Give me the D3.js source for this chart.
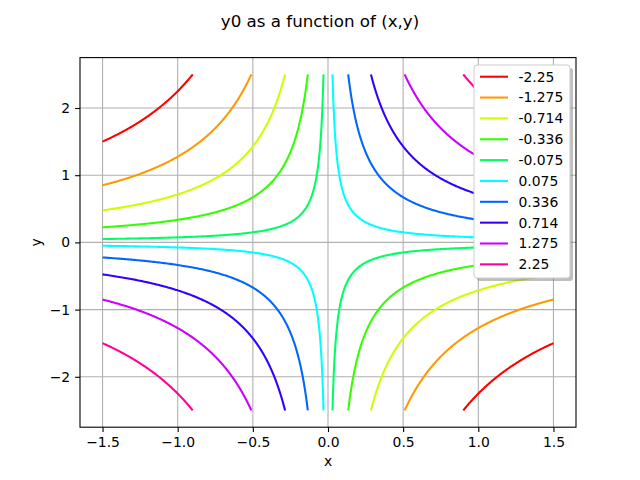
<!DOCTYPE html>
<html><head><meta charset="utf-8">
<script src="https://cdn.jsdelivr.net/npm/d3@7"></script>
<style>body{margin:0;background:#fff}svg{font-family:"DejaVu Sans",sans-serif}</style>
</head><body><svg id="c" width="640" height="480"></svg>
<script>
const levels = [-2.25, -1.275, -0.714, -0.336, -0.075, 0.075, 0.336, 0.714, 1.275, 2.25];
const levelLabels = ["-2.25","-1.275","-0.714","-0.336","-0.075","0.075","0.336","0.714","1.275","2.25"];
const levelColors = ["#ff0000","#ff9900","#ccff00","#33ff00","#00ff66","#00ffff","#0066ff","#3300ff","#cc00ff","#ff0099"];
const xRange = [-1.5, 1.5];
const yRange = [-2.5, 2.5];
const xTicks = [-1.5,-1.0,-0.5,0.0,0.5,1.0,1.5];
const yTicks = [-2,-1,0,1,2];
const title = "y0 as a function of (x,y)";

const svg = d3.select("#c");
const L=80, R=576, T=57.6, B=427.2;
const xs = d3.scaleLinear().domain([-1.65,1.65]).range([L,R]);
const ys = d3.scaleLinear().domain([-2.75,2.75]).range([B,T]);
const fmtMinus = s => s.replace("-", "\u2212");

// grid
svg.append("g").selectAll("line").data(xTicks).join("line")
  .attr("x1",d=>xs(d)).attr("x2",d=>xs(d)).attr("y1",T).attr("y2",B)
  .attr("stroke","#b0b0b0").attr("stroke-width",1.1);
svg.append("g").selectAll("line").data(yTicks).join("line")
  .attr("y1",d=>ys(d)).attr("y2",d=>ys(d)).attr("x1",L).attr("x2",R)
  .attr("stroke","#b0b0b0").attr("stroke-width",1.1);

// sampled function grid y0 = x*y
const nx = 301, ny = 501;
const gx = d3.scaleLinear().domain([0.5, nx-0.5]).range(xRange);
const gy = d3.scaleLinear().domain([0.5, ny-0.5]).range(yRange);
const values = new Float64Array(nx*ny);
for (let j=0;j<ny;j++) for (let i=0;i<nx;i++) {
  values[i+j*nx] = gx(i+0.5)*gy(j+0.5);
}
const contours = d3.contours().size([nx,ny]).thresholds(levels)(values);
svg.append("clipPath").attr("id","clip").append("rect")
  .attr("x",L).attr("y",T).attr("width",R-L).attr("height",B-T);
const lineGen = d3.line().x(p=>xs(gx(p[0]))).y(p=>ys(gy(p[1])));
const cg = svg.append("g").attr("clip-path","url(#clip)");
const clampP = p => [Math.min(Math.max(p[0],0.5),nx-0.5),Math.min(Math.max(p[1],0.5),ny-0.5)];
contours.forEach((c,k)=>{
  const polylines = [];
  c.coordinates.forEach(poly=>poly.forEach(ring=>{
    const onB = p => p[0]<=0.5||p[0]>=nx-0.5||p[1]<=0.5||p[1]>=ny-0.5;
    let start = ring.findIndex(onB);
    if (start<0) { polylines.push(ring); return; }
    let cur=[];
    const n = ring.length-1;
    for (let t=0;t<=n;t++){
      const p = ring[(start+t)%n];
      if (onB(p)) {
        if (cur.length>0){ cur.push(clampP(p)); if(cur.length>2) polylines.push(cur); cur=[]; }
      } else {
        if (cur.length===0){ cur.push(clampP(ring[(start+t-1+n)%n])); }
        cur.push(p);
      }
    }
  }));
  cg.selectAll(null).data(polylines).join("path")
    .attr("d",lineGen).attr("fill","none").attr("stroke",levelColors[k]).attr("stroke-width",2.08);
});

// axes frame
svg.append("rect").attr("x",L).attr("y",T).attr("width",R-L).attr("height",B-T)
  .attr("fill","none").attr("stroke","#000").attr("stroke-width",1.1);
const xa = svg.append("g").attr("transform",`translate(0,${B})`)
  .call(d3.axisBottom(xs).tickValues(xTicks).tickFormat(d=>fmtMinus(d3.format(".1f")(d))).tickSize(4.9).tickPadding(4.9));
const ya = svg.append("g").attr("transform",`translate(${L},0)`)
  .call(d3.axisLeft(ys).tickValues(yTicks).tickFormat(d=>fmtMinus(d3.format("d")(d))).tickSize(4.9).tickPadding(4.9));
[xa,ya].forEach(a=>{a.select(".domain").remove();
  a.selectAll("line").attr("stroke","#000").attr("stroke-width",1.1);
  a.selectAll("text").attr("font-size","13.9px").attr("font-family","DejaVu Sans").attr("fill","#000");});

svg.append("text").attr("x",(L+R)/2).attr("y",466).attr("text-anchor","middle").attr("font-size","13.9px").text("x");
svg.append("text").attr("transform",`translate(41,${(T+B)/2}) rotate(-90)`).attr("text-anchor","middle").attr("font-size","13.9px").text("y");
svg.append("text").attr("x",320).attr("y",27).attr("text-anchor","middle").attr("font-size","16.7px").text(title);

// legend
const lx=474, ly=65, lw=96, lh=213;
svg.append("rect").attr("x",lx+3).attr("y",ly+3).attr("width",lw).attr("height",lh).attr("rx",3).attr("fill","#808080").attr("opacity",0.5);
svg.append("rect").attr("x",lx).attr("y",ly).attr("width",lw).attr("height",lh).attr("rx",3)
  .attr("fill","#fff").attr("stroke","#cccccc").attr("stroke-width",1);
const lg = svg.append("g").selectAll("g").data(levels).join("g")
  .attr("transform",(d,i)=>`translate(${lx},${ly+11.7+i*20.85})`);
lg.append("line").attr("x1",6).attr("x2",34).attr("stroke",(d,i)=>levelColors[i]).attr("stroke-width",2.08);
lg.append("text").attr("x",44.5).attr("dy","0.35em").attr("font-size","13.9px").text((d,i)=>levelLabels[i]);
</script></body></html>
